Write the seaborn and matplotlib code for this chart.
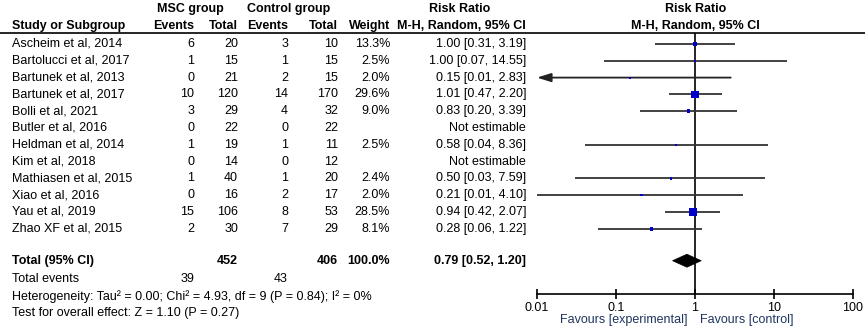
import numpy as np
import pandas as pd
import matplotlib
matplotlib.use("Agg")
import matplotlib.pyplot as plt
import matplotlib.transforms as mtransforms
from matplotlib.lines import Line2D
from matplotlib.patches import Polygon
import seaborn as sns

# ---------------- data ----------------
studies = ["Ascheim et al, 2014", "Bartolucci et al, 2017", "Bartunek et al, 2013",
           "Bartunek et al, 2017", "Bolli et al, 2021", "Butler et al, 2016",
           "Heldman et al, 2014", "Kim et al, 2018", "Mathiasen et al, 2015",
           "Xiao et al, 2016", "Yau et al, 2019", "Zhao XF et al, 2015"]
msc_events = [6, 1, 0, 10, 3, 0, 1, 0, 1, 0, 15, 2]
msc_total = [20, 15, 21, 120, 29, 22, 19, 14, 40, 16, 106, 30]
ctrl_events = [3, 1, 2, 14, 4, 0, 1, 0, 1, 2, 8, 7]
ctrl_total = [10, 15, 15, 170, 32, 22, 11, 12, 20, 17, 53, 29]
weights = [13.3, 2.5, 2.0, 29.6, 9.0, np.nan, 2.5, np.nan, 2.4, 2.0, 28.5, 8.1]
rr = [1.00, 1.00, 0.15, 1.01, 0.83, np.nan, 0.58, np.nan, 0.50, 0.21, 0.94, 0.28]
ci_lo = [0.31, 0.07, 0.01, 0.47, 0.20, np.nan, 0.04, np.nan, 0.03, 0.01, 0.42, 0.06]
ci_hi = [3.19, 14.55, 2.83, 2.20, 3.39, np.nan, 8.36, np.nan, 7.59, 4.10, 2.07, 1.22]

total_msc = 452
total_ctrl = 406
total_weight = "100.0%"
pooled_rr, pooled_lo, pooled_hi = 0.79, 0.52, 1.20
total_events_msc = 39
total_events_ctrl = 43
heterogeneity = "Heterogeneity: Tau\u00b2 = 0.00; Chi\u00b2 = 4.93, df = 9 (P = 0.84); I\u00b2 = 0%"
overall = "Test for overall effect: Z = 1.10 (P = 0.27)"
tick_vals = [0.01, 0.1, 1, 10, 100]
tick_labels = ["0.01", "0.1", "1", "10", "100"]

df = pd.DataFrame({"study": studies, "rr": rr, "lo": ci_lo, "hi": ci_hi, "w": weights})
df["row"] = np.arange(len(df))

# ---------------- figure ----------------
sns.set_theme(style="white")
plt.rcParams["font.family"] = ["Liberation Sans", "DejaVu Sans"]
W, H = 865, 336
fig = plt.figure(figsize=(W / 100, H / 100), dpi=100)

def fx(px):
    return px / W

def fy(py):
    return 1 - py / H

ax_top_px, ax_bot_px = 33, 294
ax = fig.add_axes([fx(537), fy(ax_bot_px), fx(853) - fx(537), (ax_bot_px - ax_top_px) / H])
row0_px, row_h = 44, 16.8
ax.set_xscale("log")
ax.set_xlim(0.01, 100)
ax.set_ylim((ax_bot_px - row0_px) / row_h, (ax_top_px - row0_px) / row_h)
ax.patch.set_alpha(0)

total_row = 12.9
events_row = 14.0
het_row = 15.05
test_row = 16.0

# CI lines
est = df.dropna(subset=["rr"])
for _, r in est.iterrows():
    exact_lo = r.rr ** 2 / r.hi
    if exact_lo < 0.01:
        ax.annotate("", xy=(0.01, r.row), xytext=(r.hi, r.row),
                    arrowprops=dict(arrowstyle="-|>,head_length=0.7,head_width=0.22",
                                    color="#222222", lw=1.3, shrinkA=0, shrinkB=0),
                    annotation_clip=False)
    else:
        ax.hlines(r.row, r.lo, r.hi, color="#333333", lw=1.3, clip_on=False)

ax.axvline(1, color="black", lw=1.2, zorder=1)

# weighted squares
def area(w):
    side_px = 1.8 + 0.2 * w
    return (side_px * 0.72) ** 2

size_map = {w: area(w) for w in est["w"].unique()}
sns.scatterplot(data=est, x="rr", y="row", size="w", sizes=size_map, marker="s",
                color="#0000CC", edgecolor="none", linewidth=0, legend=False,
                ax=ax, zorder=3, clip_on=False)

# pooled diamond
hh = 6.5 / row_h
ax.add_patch(Polygon([(pooled_lo, total_row), (pooled_rr, total_row - hh),
                      (pooled_hi, total_row), (pooled_rr, total_row + hh)],
                     closed=True, facecolor="black", edgecolor="black", lw=0.5, zorder=4))

# axis styling
for s in ["top", "left", "right"]:
    ax.spines[s].set_visible(False)
ax.spines["bottom"].set_color("black")
ax.spines["bottom"].set_linewidth(1.2)
ax.set_xticks(tick_vals)
ax.set_xticklabels(tick_labels)
ax.xaxis.set_minor_locator(matplotlib.ticker.NullLocator())
ax.tick_params(axis="x", direction="inout", length=7, width=1.2, colors="black",
               labelsize=9, pad=2, bottom=True)
ax.set_yticks([])
ax.set_xlabel("")
ax.set_ylabel("")
ax.grid(False)

# ---------------- table text ----------------
tr = mtransforms.blended_transform_factory(fig.transFigure, ax.transData)
fs = 9
txt = dict(fontsize=fs, color="black", va="center", transform=tr)

def T(xpx, row, s, ha="right", bold=False):
    fig.text(fx(xpx), row, s, ha=ha, fontweight="bold" if bold else "normal", **txt)

x_study, x_me, x_mt, x_ce, x_ct, x_w, x_rr = 12, 194, 238, 288, 338, 390, 526

for i, r in df.iterrows():
    T(x_study, r.row, studies[i], ha="left")
    T(x_me, r.row, str(msc_events[i]))
    T(x_mt, r.row, str(msc_total[i]))
    T(x_ce, r.row, str(ctrl_events[i]))
    T(x_ct, r.row, str(ctrl_total[i]))
    if not np.isnan(r.w):
        T(x_w, r.row, f"{r.w:.1f}%")
        T(x_rr, r.row, f"{r.rr:.2f} [{r.lo:.2f}, {r.hi:.2f}]")
    else:
        T(x_rr, r.row, "Not estimable")

T(x_study, total_row, "Total (95% CI)", ha="left", bold=True)
T(x_mt, total_row, str(total_msc), bold=True)
T(x_ct, total_row, str(total_ctrl), bold=True)
T(x_w, total_row, total_weight, bold=True)
T(x_rr, total_row, f"{pooled_rr:.2f} [{pooled_lo:.2f}, {pooled_hi:.2f}]", bold=True)
T(x_study, events_row, "Total events", ha="left")
T(x_me, events_row, str(total_events_msc))
T(x_ce, events_row, str(total_events_ctrl))
T(x_study, het_row, heterogeneity, ha="left")
T(x_study, test_row, overall, ha="left")

# headers (figure pixel coordinates)
hdr = dict(fontsize=fs, fontweight="bold", color="black", va="center")
fig.text(fx(190), fy(9), "MSC group", ha="center", **hdr)
fig.text(fx(289), fy(9), "Control group", ha="center", **hdr)
fig.text(fx(460), fy(9), "Risk Ratio", ha="center", **hdr)
fig.text(fx(696), fy(9), "Risk Ratio", ha="center", **hdr)
fig.text(fx(x_study), fy(26), "Study or Subgroup", ha="left", **hdr)
fig.text(fx(x_me), fy(26), "Events", ha="right", **hdr)
fig.text(fx(x_mt), fy(26), "Total", ha="right", **hdr)
fig.text(fx(x_ce), fy(26), "Events", ha="right", **hdr)
fig.text(fx(x_ct), fy(26), "Total", ha="right", **hdr)
fig.text(fx(x_w), fy(26), "Weight", ha="right", **hdr)
fig.text(fx(x_rr), fy(26), "M-H, Random, 95% CI", ha="right", **hdr)
fig.text(fx(695), fy(26), "M-H, Random, 95% CI", ha="center", **hdr)

fig.add_artist(Line2D([0, 1], [fy(33), fy(33)], color="black", lw=1.2,
                      transform=fig.transFigure))

fav = dict(fontsize=fs, color="#1F3560", va="center")
fig.text(fx(688), fy(320), "Favours [experimental]", ha="right", **fav)
fig.text(fx(700), fy(320), "Favours [control]", ha="left", **fav)

fig.savefig("out.png", dpi=100, facecolor="white")
